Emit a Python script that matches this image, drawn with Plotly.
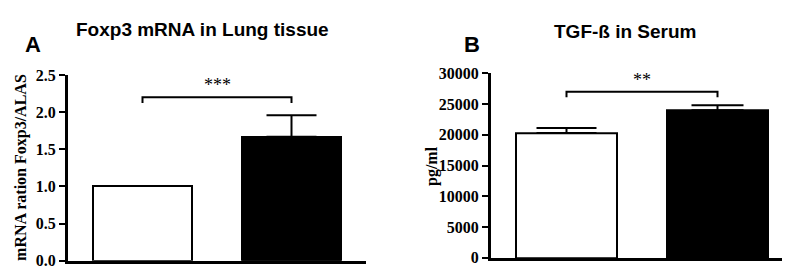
import plotly.graph_objects as go

# ---- data ----
groups = [1, 2]
foxp3_mean = [1.0, 1.67]
foxp3_err = [0.0, 0.29]
tgf_mean = [20300, 24000]
tgf_err = [800, 800]
bar_colors = ["white", "black"]
foxp3_ticks = [0.0, 0.5, 1.0, 1.5, 2.0, 2.5]
tgf_ticks = [0, 5000, 10000, 15000, 20000, 25000, 30000]
foxp3_sig = {"y": 2.2, "drop": 0.076, "label": "***"}
tgf_sig = {"y": 27000, "drop": 900, "label": "**"}

W, H = 790, 272
fig = go.Figure()

cap_a = [0, 25]
cap_b = [30, 26]
for i, g in enumerate(groups):
    fig.add_trace(go.Bar(
        x=[g], y=[foxp3_mean[i]], width=0.67,
        marker=dict(color=bar_colors[i], line=dict(color="black", width=2)),
        error_y=dict(type="data", array=[foxp3_err[i]], arrayminus=[0],
                     visible=foxp3_err[i] > 0, color="black", thickness=2, width=cap_a[i]),
        xaxis="x", yaxis="y", showlegend=False))
    fig.add_trace(go.Bar(
        x=[g], y=[tgf_mean[i]], width=0.67,
        marker=dict(color=bar_colors[i], line=dict(color="black", width=2)),
        error_y=dict(type="data", array=[tgf_err[i]], arrayminus=[0],
                     color="black", thickness=2, width=cap_b[i]),
        xaxis="x2", yaxis="y2", showlegend=False))

tickfont = dict(family="Liberation Serif", size=16, color="black", weight="bold")
axcommon = dict(showline=True, linecolor="black", linewidth=3, showgrid=False,
                zeroline=False, ticks="outside", tickwidth=2, ticklen=6,
                tickcolor="black", tickfont=tickfont)

fig.update_layout(
    width=W, height=H, margin=dict(l=0, r=0, t=0, b=0),
    paper_bgcolor="white", plot_bgcolor="white", bargap=0,
    xaxis=dict(domain=[60 / W, 358 / W], range=[0.5, 2.5], showline=True,
               linecolor="black", linewidth=3, showticklabels=False, ticks="",
               showgrid=False, zeroline=False, anchor="y"),
    yaxis=dict(domain=[(H - 261) / H, (H - 63) / H], range=[0, 2.5],
               tickvals=foxp3_ticks, ticktext=[f"<b>{v:.1f}</b>" for v in foxp3_ticks],
               anchor="x", **axcommon),
    xaxis2=dict(domain=[483 / W, 785 / W], range=[0.5, 2.5], showline=True,
                linecolor="black", linewidth=3, showticklabels=False, ticks="",
                showgrid=False, zeroline=False, anchor="y2"),
    yaxis2=dict(domain=[(H - 258) / H, (H - 61) / H], range=[0, 30000],
                tickvals=tgf_ticks, ticktext=[f"<b>{v}</b>" for v in tgf_ticks],
                anchor="x2", **axcommon),
)

# significance brackets
for xa, ya, sig in [("x", "y", foxp3_sig), ("x2", "y2", tgf_sig)]:
    x0, x1 = groups[0], groups[1]
    y, d = sig["y"], sig["drop"]
    fig.add_shape(type="path", xref=xa, yref=ya,
                  path=f"M {x0} {y - d} L {x0} {y} L {x1} {y} L {x1} {y - d}",
                  line=dict(color="black", width=2))
    fig.add_annotation(x=(x0 + x1) / 2, y=y, xref=xa, yref=ya, text=sig["label"],
                       showarrow=False, yanchor="bottom", yshift=0,
                       font=dict(family="Liberation Serif", size=18, color="black"))

title_font = dict(family="Liberation Sans", size=19, color="black")
letter_font = dict(family="Liberation Sans", size=22, color="black")
ann = [
    (194, 14, "<b>Foxp3 mRNA in Lung tissue</b>", title_font, 0),
    (617, 16, "<b>TGF-ß in Serum</b>", title_font, 0),
    (25, 30, "<b>A</b>", letter_font, 0),
    (464, 30, "<b>B</b>", letter_font, 0),
    (13, 162, "<b>mRNA ration Foxp3/ALAS</b>",
     dict(family="Liberation Serif", size=16, color="black"), -90),
    (424, 160, "<b>pg/ml</b>",
     dict(family="Liberation Serif", size=16, color="black"), -90),
]
for x, y, t, f, a in ann:
    fig.add_annotation(x=x / W, y=1 - y / H, xref="paper", yref="paper", text=t,
                       showarrow=False, font=f, textangle=a,
                       xanchor="center", yanchor="middle")

fig.write_html("out.html")
